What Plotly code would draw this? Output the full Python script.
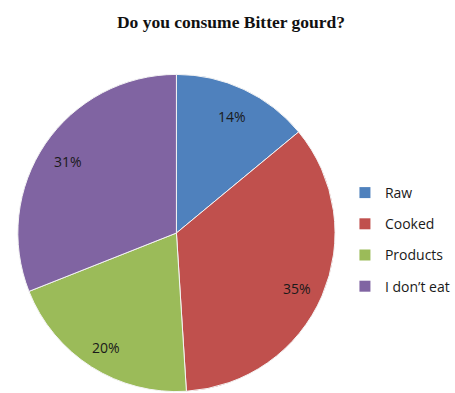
import math
import plotly.graph_objects as go

# Survey answers and their shares (percent)
categories = ["Raw", "Cooked", "Products", "I don\u2019t eat"]
shares = [14, 35, 20, 31]
colors = ["#4F81BD", "#C0504D", "#9BBB59", "#8064A2"]

W, H = 455, 393
# pie placement in pixels (domain box)
DX0, DX1 = 18, 338
DY0, DY1 = 0, 320

body_font = "'Open Sans', Lato, sans-serif"

fig = go.Figure()
fig.add_trace(go.Pie(
    labels=categories,
    values=shares,
    sort=False,
    direction="clockwise",
    rotation=0,
    marker=dict(colors=colors, line=dict(color="#f4f4f4", width=1)),
    textinfo="none",
    showlegend=False,
    hoverinfo="label+percent",
    domain=dict(x=[DX0 / W, DX1 / W], y=[DY0 / H, DY1 / H]),
))

# Percentage labels sit at ~85% of the radius, at the middle angle of each slice
cx = (DX0 + DX1) / 2 / W
cy = (DY0 + DY1) / 2 / H
rad = 0.85 * 0.975 * min(DX1 - DX0, DY1 - DY0) / 2
total = sum(shares)
cum = 0
for v in shares:
    ang = math.radians((cum + v / 2) / total * 360)
    cum += v
    fig.add_annotation(
        x=cx + rad * math.sin(ang) / W, y=cy + rad * math.cos(ang) / H - 3 / H,
        xref="paper", yref="paper", xanchor="center", yanchor="middle",
        showarrow=False,
        text=f"{v}%", font=dict(family=body_font, size=14, color="#1a1a1a"),
    )

# Legend entries, one group per answer so the spacing between them can be set
for name, col in zip(categories, colors):
    fig.add_trace(go.Scatter(
        x=[None], y=[None], mode="markers", name=name,
        legendgroup=name,
        marker=dict(symbol="square", size=11, color=col),
    ))

fig.update_layout(
    width=W, height=H,
    margin=dict(l=0, r=0, t=0, b=0),
    paper_bgcolor="white", plot_bgcolor="white",
    xaxis=dict(visible=False), yaxis=dict(visible=False),
    title=dict(
        text="<b>Do you consume Bitter gourd?</b>",
        font=dict(family="Liberation Serif, 'Times New Roman', serif", size=17.5, color="#111"),
        x=231 / W, xanchor="center", y=1 - 22 / H, yanchor="middle",
    ),
    legend=dict(
        x=348 / W, y=1 - 177 / H, xanchor="left", yanchor="top",
        font=dict(family=body_font, size=14, color="#1a1a1a"),
        tracegroupgap=10, itemwidth=30,
        bgcolor="rgba(0,0,0,0)",
    ),
)

fig.write_html("out.html")
